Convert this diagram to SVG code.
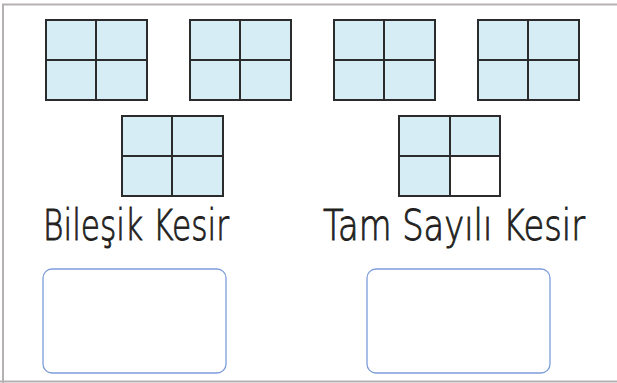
<svg xmlns="http://www.w3.org/2000/svg" width="617" height="383" viewBox="0 0 617 383">
<style>
.frame{fill:none;stroke:#b5b1b1;stroke-width:2}
.cell{fill:#d6edf5;stroke:#2b2b2b;stroke-width:2}
.empty{fill:#ffffff;stroke:#2b2b2b;stroke-width:2}
.ans{fill:#ffffff;stroke:#7c9ddb;stroke-width:1.3}
.lbl{font-family:"DejaVu Sans","Liberation Sans",sans-serif;font-weight:200;font-size:37px;fill:#231f20;stroke:#231f20;stroke-width:0.8}
</style>
<rect width="617" height="383" fill="#ffffff"/>
<path class="frame" d="M3,383 V4.5 H617 M0,381.5 H617"/>
<defs>
<g id="grid">
<rect class="cell" x="0" y="0" width="50" height="40"/>
<rect class="cell" x="50" y="0" width="51" height="40"/>
<rect class="cell" x="0" y="40" width="50" height="40"/>
<rect class="cell" x="50" y="40" width="51" height="40"/>
</g>
</defs>
<g id="grid1"><use href="#grid" x="46" y="20"/></g>
<g id="grid2"><use href="#grid" x="190" y="20"/></g>
<g id="grid3"><use href="#grid" x="334" y="20"/></g>
<g id="grid4"><use href="#grid" x="478" y="20"/></g>
<g id="grid5"><use href="#grid" x="122" y="116"/></g>
<g id="grid6">
<rect class="cell" x="399" y="116" width="51" height="40"/>
<rect class="cell" x="450" y="116" width="50" height="40"/>
<rect class="cell" x="399" y="156" width="51" height="40"/>
<rect class="empty" x="450" y="156" width="50" height="40"/>
</g>
<g id="label1" transform="translate(43,240) scale(1,1.14)"><text class="lbl" x="0" y="0" textLength="186" lengthAdjust="spacingAndGlyphs">Bileşik Kesir</text></g>
<g id="label2" transform="translate(323,240) scale(1,1.14)"><text class="lbl" x="0" y="0" textLength="262" lengthAdjust="spacingAndGlyphs">Tam Sayılı Kesir</text></g>
<g id="box1"><rect class="ans" x="43" y="269" width="183" height="104" rx="9"/></g>
<g id="box2"><rect class="ans" x="367" y="269" width="183" height="104" rx="9"/></g>
<g id="connectors"></g>
</svg>
